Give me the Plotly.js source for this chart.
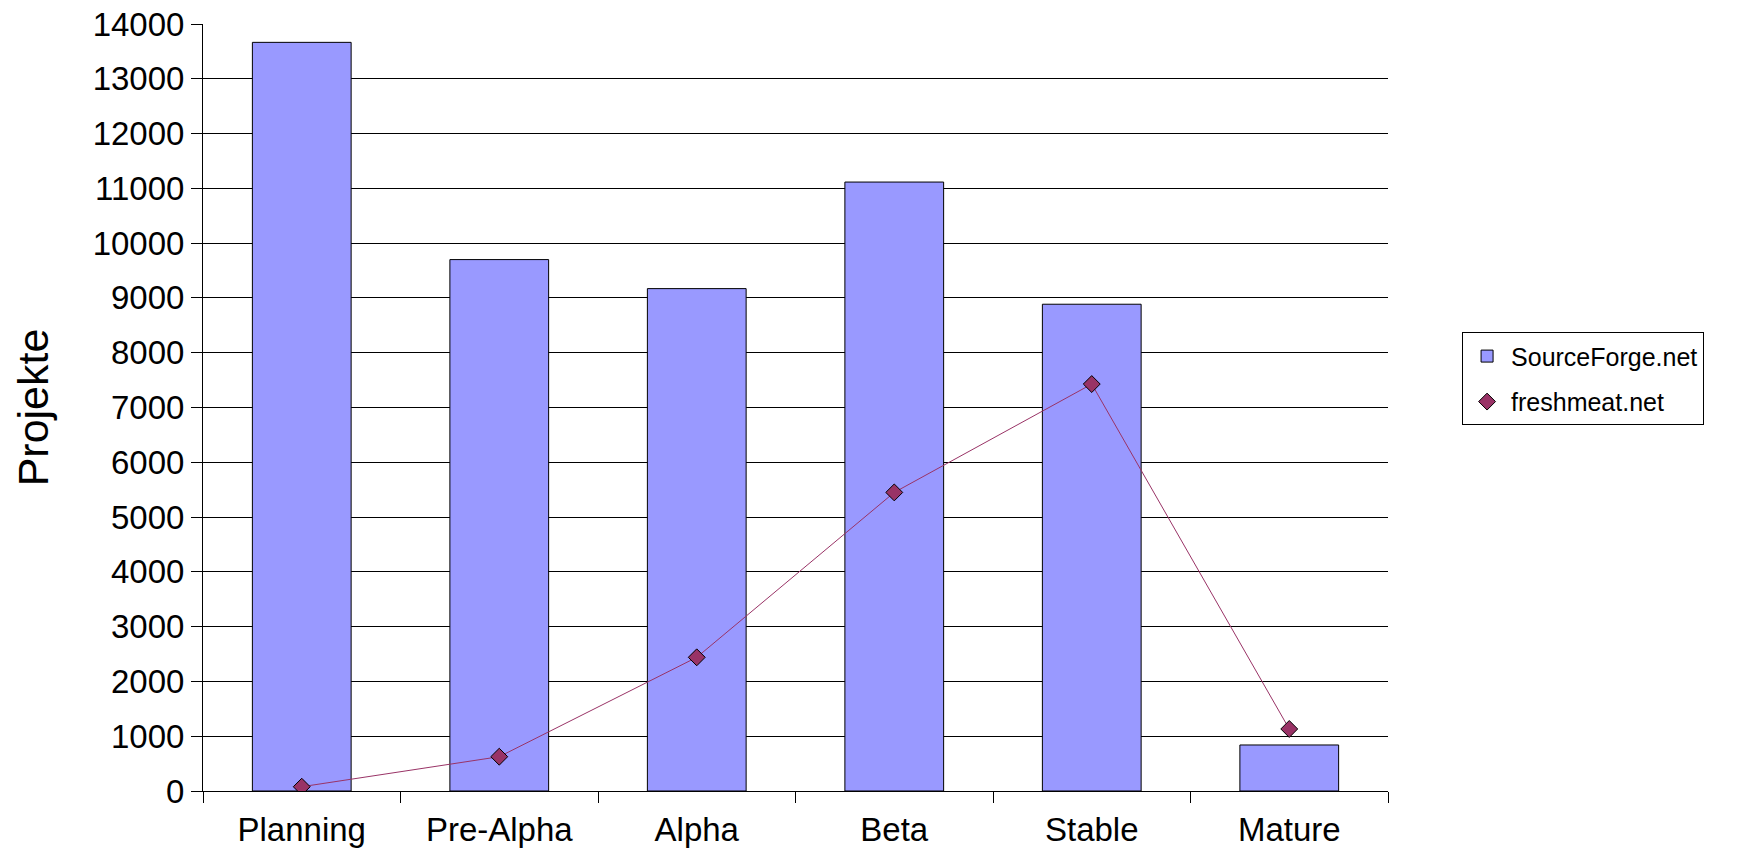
<!DOCTYPE html>
<html>
<head>
<meta charset="utf-8">
<script src="https://cdn.plot.ly/plotly-3.0.1.min.js"></script>
<style>html,body{margin:0;padding:0;background:#fff;}#chart{width:1739px;height:851px;}</style>
</head>
<body>
<div id="chart"></div>
<script>
const categories = ["Planning", "Pre-Alpha", "Alpha", "Beta", "Stable", "Mature"];
const sourceForge = [13665, 9700, 9170, 11115, 8885, 840];
const freshmeat = [78, 626, 2440, 5450, 7428, 1132];
const yTicks = [0,1000,2000,3000,4000,5000,6000,7000,8000,9000,10000,11000,12000,13000,14000];

const FONT = "Liberation Sans, Arial, sans-serif";

const traces = [
  {
    type: "bar", name: "SourceForge.net", x: categories, y: sourceForge,
    width: 0.5, legendgroup: "g1",
    marker: {color: "#9999FF", line: {color: "#000000", width: 1}},
    hoverinfo: "x+y"
  },
  {
    type: "scatter", mode: "lines", x: categories, y: freshmeat,
    line: {color: "#993366", width: 1}, showlegend: false, hoverinfo: "skip"
  },
  {
    type: "scatter", mode: "markers", name: "freshmeat.net", x: categories, y: freshmeat,
    legendgroup: "g2",
    marker: {symbol: "diamond", size: 13, color: "#993366", line: {color: "#000000", width: 1}}
  }
];

const layout = {
  width: 1739, height: 851,
  margin: {l: 203, r: 351, t: 24, b: 60},
  paper_bgcolor: "#ffffff", plot_bgcolor: "#ffffff",
  font: {family: FONT, color: "#000000", size: 33},
  showlegend: true,
  bargap: 0.5,
  xaxis: {
    type: "category", showgrid: false, showline: true, linecolor: "#000", linewidth: 1,
    ticks: "outside", tickson: "boundaries", ticklen: 11, tickcolor: "#000", tickwidth: 1,
    ticklabelstandoff: 9,
    tickfont: {size: 33, family: FONT, color: "#000"}, zeroline: false, fixedrange: true
  },
  yaxis: {
    range: [0, 14000], tickvals: yTicks, ticktext: yTicks.map(String),
    showgrid: true, gridcolor: "#000", gridwidth: 1,
    showline: true, linecolor: "#000", linewidth: 1, zeroline: false,
    ticks: "outside", ticklen: 11, tickcolor: "#000", tickwidth: 1,
    ticklabelstandoff: 0,
    tickfont: {size: 33, family: FONT, color: "#000"},
    title: {text: "Projekte", font: {size: 43, family: FONT, color: "#000"}, standoff: 30},
    fixedrange: true
  },
  legend: {
    x: 1.0625, y: 0.598, xanchor: "left", yanchor: "top",
    bordercolor: "#000", borderwidth: 1, bgcolor: "#fff",
    font: {size: 25, family: FONT, color: "#000"},
    itemwidth: 38,
    traceorder: "grouped", tracegroupgap: 10
  }
};

Plotly.newPlot("chart", traces, layout, {displayModeBar: false, staticPlot: true});
</script>
</body>
</html>
